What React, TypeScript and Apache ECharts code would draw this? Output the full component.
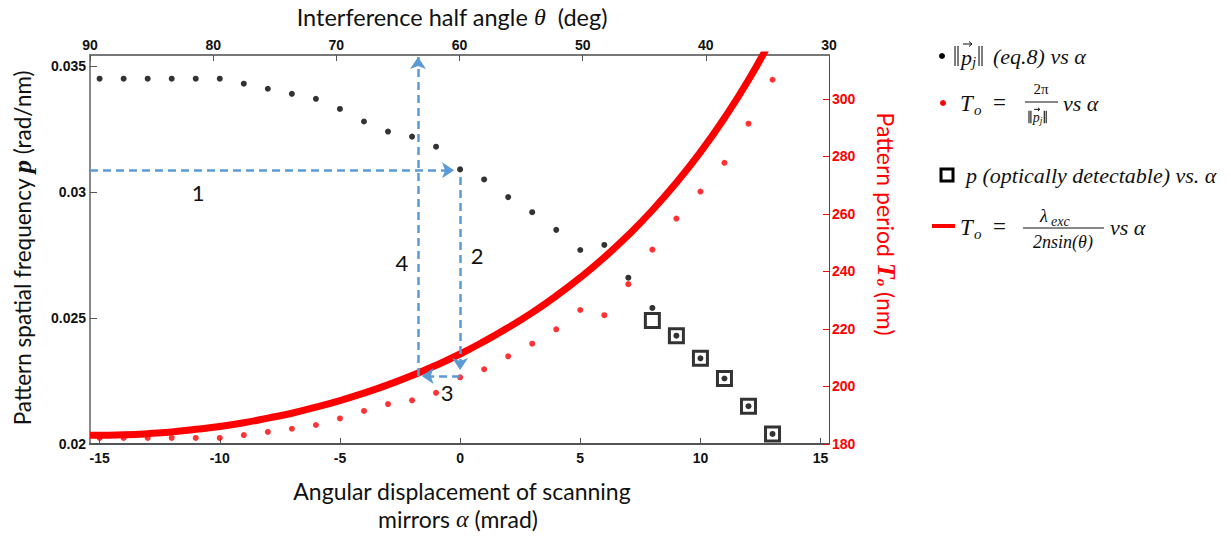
import React, { useEffect, useRef } from "react";
import * as echarts from "echarts";

// ---- data ----
const alpha = [-15, -14, -13, -12, -11, -10, -9, -8, -7, -6, -5, -4, -3, -2, -1, 0, 1, 2, 3, 4, 5, 6, 7, 8, 9, 10, 11, 12, 13];
const pFreq = [0.0345, 0.0345, 0.0345, 0.0345, 0.0345, 0.0345, 0.0343, 0.0341, 0.0339, 0.0337, 0.0333, 0.0328, 0.0324, 0.0322, 0.0318, 0.0309, 0.0305, 0.0298, 0.0292, 0.0285, 0.0277, 0.0279, 0.0266, 0.0254, 0.0243, 0.0234, 0.0226, 0.0215, 0.0204];
const periodDots = [182.1, 182.1, 182.1, 182.1, 182.1, 182.1, 183.1, 184.2, 185.3, 186.6, 188.9, 191.5, 193.9, 195.2, 197.8, 203.2, 206.0, 210.5, 214.9, 219.9, 226.6, 224.8, 235.6, 247.6, 258.4, 267.8, 277.8, 291.4, 306.7];
const alphaDetect = [8, 9, 10, 11, 12, 13];
const pDetect = [0.0249, 0.0243, 0.0234, 0.0226, 0.0215, 0.0204];
const alphaLine = [-15.4, -15, -14, -13, -12, -11, -10, -9, -8, -7, -6, -5, -4, -3, -2, -1, 0, 1, 2, 3, 4, 5, 6, 7, 8, 9, 10, 11, 12, 13];
const periodLine = [183.0, 183.0, 183.2, 183.6, 184.2, 185.1, 186.1, 187.4, 189.0, 190.7, 192.8, 195.1, 197.7, 200.6, 203.8, 207.4, 211.3, 215.7, 220.5, 225.7, 231.5, 237.9, 244.9, 252.7, 261.3, 270.9, 281.5, 293.4, 306.6, 321.5];

const xTicks = [-15, -10, -5, 0, 5, 10, 15];
const thetaTicks = [30, 40, 50, 60, 70, 80, 90];
const pTicks = [0.02, 0.025, 0.03, 0.035];
const periodTicks = [180, 200, 220, 240, 260, 280, 300];

// annotation arrows (data coordinates: alpha, p)
const arrowStarts = [[-15.4, 0.03087], [0, 0.0306], [0, 0.0227], [-1.75, 0.0227]];
const arrowEnds = [[-0.25, 0.03087], [0, 0.02294], [-1.6, 0.0227], [-1.75, 0.03536]];
const arrowLabels = ["1", "2", "3", "4"];
const arrowLabelPos = [[-10.9, 0.0300], [0.71, 0.0275], [-0.54, 0.02206], [-2.42, 0.02722]];

const sans = "Lato, 'Open Sans', sans-serif";
const tickFont = "'Liberation Sans', Arial, sans-serif";
const serif = "'Liberation Serif', 'DejaVu Serif', serif";

export default function App() {
  const ref = useRef<HTMLDivElement>(null);
  useEffect(() => {
    if (!ref.current) return;
    const chart = echarts.init(ref.current, undefined, { renderer: "svg" });
    const blue = "#5B9BD5";
    const ink = "#111";
    const lt = (x: number, y: number, text: string, size = 22, align = "left", italic = true) => ({
      type: "text",
      x,
      y,
      style: { text, fontFamily: serif, fontStyle: italic ? "italic" : "normal", fontSize: size, fill: ink, align, verticalAlign: "middle" },
    });
    const vline = (x: number, y1: number, y2: number, w = 1) => ({
      type: "line",
      shape: { x1: x, y1, x2: x, y2 },
      style: { stroke: ink, lineWidth: w },
    });
    // ||p_j|| composed of drawn bars, text p, drawn vector arrow, subscript j
    const normP = (x: number, y: number, s: number) => {
      const k = s / 22;
      const h = 10 * k;
      const px = x + 6 * k;
      const ax1 = px + 2 * k;
      const ax2 = px + 11 * k;
      const ay = y - 12 * k;
      const jx = px + 11 * k;
      const bx = jx + 7 * k;
      return [
        vline(x, y - h, y + h, 1.1),
        vline(x + 3 * k, y - h, y + h, 1.1),
        lt(px, y + 1 * k, "p", s),
        { type: "line", shape: { x1: ax1, y1: ay, x2: ax2, y2: ay }, style: { stroke: ink, lineWidth: 1 } },
        { type: "polyline", shape: { points: [[ax2 - 3 * k, ay - 2.5 * k], [ax2, ay], [ax2 - 3 * k, ay + 2.5 * k]] }, style: { stroke: ink, lineWidth: 1, fill: "none" } },
        lt(jx, y + 6 * k, "j", s * 0.68),
        vline(bx, y - h, y + h, 1.1),
        vline(bx + 3 * k, y - h, y + h, 1.1),
      ];
    };
    const titleRich = (fill: string) => ({
      i: { fontFamily: serif, fontStyle: "italic", fontSize: 24, fill },
      b: { fontFamily: serif, fontStyle: "italic", fontWeight: "bold", fontSize: 26, fill },
      s: { fontFamily: serif, fontStyle: "italic", fontWeight: "bold", fontSize: 15, fill, padding: [9, 0, 0, 0] },
    });
    const option: any = {
      animation: false,
      backgroundColor: "#fff",
      grid: { left: 90, right: 402, top: 55, bottom: 96, containLabel: false },
      xAxis: [
        {
          type: "value",
          min: -15.4,
          max: 15.35,
          position: "bottom",
          axisLine: { show: true, onZero: false, lineStyle: { color: "#555", width: 2 } },
          axisTick: { show: true, inside: true, length: 6, customValues: xTicks, lineStyle: { color: "#555", width: 1 } },
          axisLabel: { customValues: xTicks, fontFamily: tickFont, fontWeight: "bold", fontSize: 14, color: ink, margin: 7 },
          splitLine: { show: false },
        },
        {
          type: "value",
          min: 30,
          max: 90,
          inverse: true,
          position: "top",
          axisLine: { show: true, onZero: false, lineStyle: { color: "#777", width: 2 } },
          axisTick: { show: true, inside: true, length: 6, customValues: thetaTicks, lineStyle: { color: "#555", width: 1 } },
          axisLabel: { customValues: thetaTicks, fontFamily: tickFont, fontWeight: "bold", fontSize: 14, color: ink, margin: 3 },
          splitLine: { show: false },
        },
      ],
      yAxis: [
        {
          type: "value",
          min: 0.02,
          max: 0.03544,
          position: "left",
          axisLine: { show: true, onZero: false, lineStyle: { color: "#888", width: 2 } },
          axisTick: { show: true, inside: true, length: 7, customValues: pTicks, lineStyle: { color: "#555", width: 1 } },
          axisLabel: {
            customValues: pTicks,
            fontFamily: tickFont,
            fontWeight: "bold",
            fontSize: 14,
            color: ink,
            margin: 4,
            formatter: (v: number) => String(+v.toFixed(3)),
          },
          splitLine: { show: false },
        },
        {
          type: "value",
          min: 180,
          max: 315.3,
          position: "right",
          axisLine: { show: true, onZero: false, lineStyle: { color: "#ff0000", width: 1 } },
          axisTick: { show: true, inside: true, length: 6, customValues: periodTicks, lineStyle: { color: "#ff0000", width: 1 } },
          axisLabel: { customValues: periodTicks, fontFamily: tickFont, fontWeight: "bold", fontSize: 14, color: "#ff0000", margin: 3 },
          splitLine: { show: false },
        },
      ],
      series: [
        {
          name: "To line",
          type: "line",
          xAxisIndex: 0,
          yAxisIndex: 1,
          data: alphaLine.map((a, i) => [a, periodLine[i]]),
          smooth: true,
          showSymbol: false,
          clip: true,
          lineStyle: { color: "#ff0000", width: 7 },
          z: 1,
        },
        {
          name: "To dots",
          type: "scatter",
          xAxisIndex: 0,
          yAxisIndex: 1,
          data: alpha.map((a, i) => [a, periodDots[i]]),
          symbolSize: 6,
          itemStyle: { color: "#ff0000" },
          z: 2,
        },
        {
          name: "detectable",
          type: "scatter",
          xAxisIndex: 0,
          yAxisIndex: 0,
          data: alphaDetect.map((a, i) => [a, pDetect[i]]),
          symbol: "rect",
          symbolSize: 14,
          itemStyle: { color: "rgba(255,255,255,0)", borderColor: "#000", borderWidth: 3 },
          z: 3,
        },
        {
          name: "p",
          type: "scatter",
          xAxisIndex: 0,
          yAxisIndex: 0,
          data: alpha.map((a, i) => [a, pFreq[i]]),
          symbolSize: 6,
          itemStyle: { color: "#000" },
          z: 4,
          markLine: {
            silent: true,
            symbol: ["none", "arrow"],
            symbolSize: 12,
            label: { show: false },
            lineStyle: { color: blue, type: [8, 5], width: 2.5 },
            itemStyle: { color: blue },
            data: arrowStarts.map((s, i) => [{ coord: s }, { coord: arrowEnds[i] }]),
          },
          markPoint: {
            silent: true,
            symbol: "circle",
            symbolSize: 1,
            itemStyle: { color: "rgba(0,0,0,0)" },
            label: { show: true, position: "inside", fontFamily: sans, fontSize: 22, color: ink, formatter: (p: any) => p.name },
            data: arrowLabels.map((t, i) => ({ name: t, coord: arrowLabelPos[i] })),
          },
        },
      ],
      graphic: [
        {
          type: "text",
          x: 452,
          y: 17,
          style: {
            text: "Interference half angle {i|θ}  (deg)",
            fontFamily: sans,
            fontSize: 23.5,
            fill: ink,
            align: "center",
            verticalAlign: "middle",
            rich: titleRich(ink),
          },
        },
        {
          type: "text",
          x: 462,
          y: 491,
          style: { text: "Angular displacement of scanning", fontFamily: sans, fontSize: 23, fill: ink, align: "center", verticalAlign: "middle" },
        },
        {
          type: "text",
          x: 458,
          y: 519,
          style: {
            text: "mirrors {i|α} (mrad)",
            fontFamily: sans,
            fontSize: 23,
            fill: ink,
            align: "center",
            verticalAlign: "middle",
            rich: titleRich(ink),
          },
        },
        {
          type: "text",
          x: 22,
          y: 248,
          rotation: Math.PI / 2,
          style: {
            text: "Pattern spatial frequency {b|p} (rad/nm)",
            fontFamily: sans,
            fontSize: 22.5,
            fill: ink,
            align: "center",
            verticalAlign: "middle",
            rich: titleRich(ink),
          },
        },
        {
          type: "text",
          x: 886,
          y: 224,
          rotation: -Math.PI / 2,
          style: {
            text: "Pattern period {b|T}{s|o} (nm)",
            fontFamily: sans,
            fontSize: 23,
            fill: "#ff0000",
            align: "center",
            verticalAlign: "middle",
            rich: titleRich("#ff0000"),
          },
        },
        // legend item 1
        { type: "circle", shape: { cx: 942, cy: 56, r: 3 }, style: { fill: "#000" } },
        ...normP(955, 56, 22),
        lt(993, 56, "(eq.8) vs α", 22),
        // legend item 2
        { type: "circle", shape: { cx: 943, cy: 103, r: 3 }, style: { fill: "#ff0000" } },
        lt(960, 103, "T", 23),
        lt(974, 110, "o", 15),
        lt(993, 102, "=", 23, "left", false),
        lt(1041, 89, "2π", 15, "center", false),
        { type: "line", shape: { x1: 1025, y1: 102, x2: 1058, y2: 102 }, style: { stroke: ink, lineWidth: 1 } },
        ...normP(1029, 117, 14),
        lt(1063, 103, "vs α", 22),
        // legend item 3
        { type: "rect", shape: { x: 941, y: 169, width: 12, height: 12 }, style: { fill: "#fff", stroke: "#000", lineWidth: 3 } },
        lt(966, 175, "p (optically detectable) vs. α", 22),
        // legend item 4
        { type: "line", shape: { x1: 932, y1: 226, x2: 955, y2: 226 }, style: { stroke: "#ff0000", lineWidth: 4 } },
        lt(960, 227, "T", 23),
        lt(974, 234, "o", 15),
        lt(993, 226, "=", 23, "left", false),
        lt(1040, 216, "λ", 18),
        lt(1051, 221, "exc", 14),
        { type: "line", shape: { x1: 1023, y1: 228, x2: 1104, y2: 228 }, style: { stroke: ink, lineWidth: 1 } },
        lt(1063, 242, "2nsin(θ)", 18, "center"),
        lt(1110, 227, "vs α", 22),
      ],
    };
    chart.setOption(option);
    return () => chart.dispose();
  }, []);
  return <div ref={ref} style={{ position: "absolute", left: 0, top: 0, width: 1231, height: 540 }} />;
}
